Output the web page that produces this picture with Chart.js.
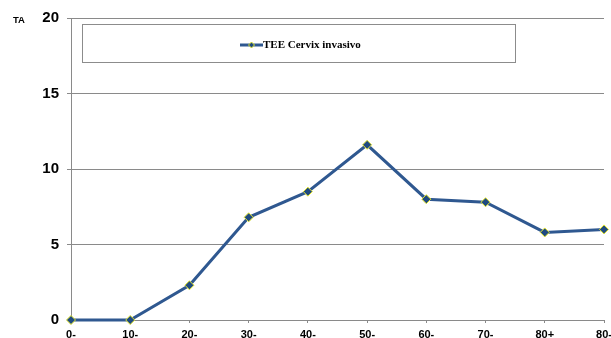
<!DOCTYPE html>
<html>
<head>
<meta charset="utf-8">
<script src="https://cdn.jsdelivr.net/npm/chart.js@4.4.1/dist/chart.umd.min.js"></script>
<style>
  html, body { margin: 0; padding: 0; background: #fff; overflow: hidden; }
  #wrap { width: 611px; height: 338px; position: relative; }
</style>
</head>
<body>
<div id="wrap"><canvas id="c"></canvas></div>
<script>
// Age groups and incidence rates (TA) for invasive cervical cancer
const ageGroups = ['0-', '10-', '20-', '30-', '40-', '50-', '60-', '70-', '80+', '80-'];
const rates = [0, 0, 2.3, 6.8, 8.5, 11.6, 8.0, 7.8, 5.8, 6.0];
const seriesLabel = 'TEE Cervix invasivo';
const yTicks = [0, 5, 10, 15, 20];
const yAxisLabel = 'TA';

const lineColor = '#2f5890';
const pointFill = '#1f4a80';
const pointEdge = '#e6e62a';
const gridColor = '#8a8a8a';

// Boxed legend and the small axis caption drawn on top of the chart
const decorations = {
  id: 'decorations',
  afterDraw(chart) {
    const ctx = chart.ctx;
    ctx.save();
    // caption above the y axis
    ctx.fillStyle = '#000';
    ctx.font = 'bold 9.5px "Liberation Sans", Arial, sans-serif';
    ctx.textBaseline = 'middle';
    ctx.textAlign = 'left';
    ctx.fillText(yAxisLabel, 13, 20.5);

    // legend frame
    ctx.strokeStyle = '#8c8c8c';
    ctx.lineWidth = 1;
    ctx.strokeRect(82.5, 24.5, 433, 38);

    // legend sample: line with a diamond marker
    const ds = chart.data.datasets[0];
    const ly = 45;
    ctx.strokeStyle = ds.borderColor;
    ctx.lineWidth = 3;
    ctx.beginPath();
    ctx.moveTo(240, ly);
    ctx.lineTo(263, ly);
    ctx.stroke();
    ctx.fillStyle = ds.pointBackgroundColor;
    ctx.strokeStyle = ds.pointBorderColor;
    ctx.lineWidth = 1;
    ctx.beginPath();
    ctx.moveTo(251.5, ly - 3);
    ctx.lineTo(254.5, ly);
    ctx.lineTo(251.5, ly + 3);
    ctx.lineTo(248.5, ly);
    ctx.closePath();
    ctx.fill();
    ctx.stroke();

    ctx.fillStyle = '#000';
    ctx.font = 'bold 11px "Liberation Serif", "Times New Roman", serif';
    ctx.textAlign = 'left';
    ctx.fillText(ds.label, 263, ly + 0.5);
    ctx.restore();
  }
};

new Chart(document.getElementById('c'), {
  type: 'line',
  data: {
    labels: ageGroups,
    datasets: [{
      label: seriesLabel,
      data: rates,
      borderColor: lineColor,
      borderWidth: 3,
      pointStyle: 'rectRot',
      pointRadius: 4.5,
      pointBackgroundColor: pointFill,
      pointBorderColor: pointEdge,
      pointBorderWidth: 1,
      tension: 0,
      clip: false
    }]
  },
  options: {
    responsive: true,
    maintainAspectRatio: false,
    animation: false,
    devicePixelRatio: 1,
    layout: { padding: { top: 18, right: 7, bottom: 0, left: 0 } },
    plugins: { legend: { display: false }, tooltip: { enabled: false } },
    scales: {
      x: {
        type: 'category',
        offset: false,
        grid: {
          display: true,
          drawOnChartArea: false,
          drawTicks: true,
          tickLength: 3,
          color: gridColor
        },
        border: { display: true, color: gridColor, width: 1 },
        ticks: {
          color: '#000',
          font: { family: '"Liberation Sans", Arial, sans-serif', size: 11, weight: 'bold' },
          padding: 5,
          maxRotation: 0,
          autoSkip: false
        },
        afterFit(scale) {
          scale.height = 18;
          scale.paddingLeft = 0;
          scale.paddingRight = 0;
        }
      },
      y: {
        min: 0,
        max: 20,
        afterBuildTicks(scale) {
          scale.ticks = yTicks.map(v => ({ value: v }));
        },
        grid: {
          color: gridColor,
          lineWidth: 1,
          drawTicks: true,
          tickLength: 4
        },
        border: { display: true, color: gridColor, width: 1 },
        ticks: {
          color: '#000',
          font: { family: '"Liberation Sans", Arial, sans-serif', size: 15, weight: 'bold' },
          padding: 8
        },
        afterFit(scale) {
          scale.width = 71;
          scale.paddingTop = 0;
          scale.paddingBottom = 0;
        }
      }
    }
  },
  plugins: [decorations]
});
</script>
</body>
</html>
